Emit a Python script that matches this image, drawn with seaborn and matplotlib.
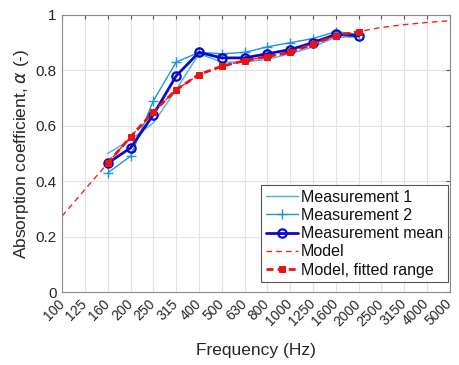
import matplotlib
matplotlib.use("Agg")
import matplotlib.pyplot as plt
import pandas as pd
import seaborn as sns

# Third-octave band centre frequencies (categorical x axis)
freqs = ["100", "125", "160", "200", "250", "315", "400", "500", "630",
         "800", "1000", "1250", "1600", "2000", "2500", "3150", "4000", "5000"]

# Measured range 160 Hz - 2000 Hz
meas_freqs = freqs[2:14]
meas1 = [0.50, 0.55, 0.61, 0.73, 0.86, 0.83, 0.83, 0.84, 0.86, 0.885, 0.92, 0.92]
meas2 = [0.43, 0.49, 0.69, 0.83, 0.865, 0.86, 0.865, 0.885, 0.90, 0.915, 0.94, 0.93]
meas_mean = [0.465, 0.52, 0.64, 0.78, 0.865, 0.845, 0.845, 0.86, 0.875, 0.90, 0.93, 0.925]

# Model over the full range
model = [0.274, 0.37, 0.465, 0.56, 0.65, 0.73, 0.785, 0.815, 0.835, 0.85,
         0.865, 0.895, 0.925, 0.94, 0.955, 0.965, 0.973, 0.979]
model_fit = model[2:14]

sns.set_style("white")
plt.rcParams['font.family'] = ['Liberation Sans', 'DejaVu Sans']
text_col = "#262626"

pos = {f: i for i, f in enumerate(freqs)}
df_meas = pd.DataFrame({"x": [pos[f] for f in meas_freqs], "m1": meas1, "m2": meas2,
                        "mean": meas_mean, "fit": model_fit})
df_model = pd.DataFrame({"x": list(range(len(freqs))), "model": model})

fig = plt.figure(figsize=(4.6, 3.65), dpi=100)
ax = fig.add_axes([0.135, 0.2, 0.843, 0.759])

sns.lineplot(data=df_meas, x="x", y="m1", ax=ax, color="#45aef0", lw=1.0,
             label="Measurement 1")
sns.lineplot(data=df_meas, x="x", y="m2", ax=ax, color="#1a96e2", lw=1.0,
             marker="+", markersize=6.5, mew=1.0, mec="#1a96e2",
             label="Measurement 2")
sns.lineplot(data=df_meas, x="x", y="mean", ax=ax, color="#0a0ac8", lw=2.0,
             marker="o", markersize=6, mfc="none", mew=1.6, mec="#0a0ac8",
             label="Measurement mean")
sns.lineplot(data=df_model, x="x", y="model", ax=ax, color="#ff1a1a", lw=1.0,
             linestyle=(0, (4, 3)), label="Model")
sns.lineplot(data=df_meas, x="x", y="fit", ax=ax, color="#ee1111", lw=2.0,
             linestyle=(0, (2.5, 1.5)), marker="s", markersize=4.8,
             mec="#ee1111", label="Model, fitted range")

ax.set_xlim(0, len(freqs) - 1)
ax.set_ylim(0, 1)
ax.set_xticks(range(len(freqs)))
ax.set_xticklabels(freqs, rotation=45, ha="right", va="center",
                   rotation_mode="anchor", fontsize=10, color=text_col)
ax.set_yticks([0, 0.2, 0.4, 0.6, 0.8, 1])
ax.set_yticklabels(["0", "0.2", "0.4", "0.6", "0.8", "1"], fontsize=11,
                   color=text_col)
ax.tick_params(direction="in", length=3, color="#555555", pad=4,
               top=True, right=True)
ax.tick_params(axis="x", pad=7)
ax.grid(True, color="#e3e3e3", lw=0.8)
for s in ax.spines.values():
    s.set_color("#8a8a8a")
    s.set_linewidth(0.8)

ax.set_xlabel("Frequency (Hz)", fontsize=12.5, color=text_col, labelpad=10)
ax.set_ylabel(r"Absorption coefficient, $\alpha$ (-)", fontsize=12.5,
              color=text_col, labelpad=3)

leg = ax.legend(loc="lower right", bbox_to_anchor=(0.995, 0.035),
                fontsize=11.5, frameon=True, fancybox=False,
                framealpha=1, edgecolor="#555555", handlelength=2.0,
                borderpad=0.3, labelspacing=0.2, handletextpad=0.2,
                borderaxespad=0.0)
leg.get_frame().set_linewidth(0.8)
for t in leg.get_texts():
    t.set_color("#111111")

fig.savefig("out.png", dpi=100)
